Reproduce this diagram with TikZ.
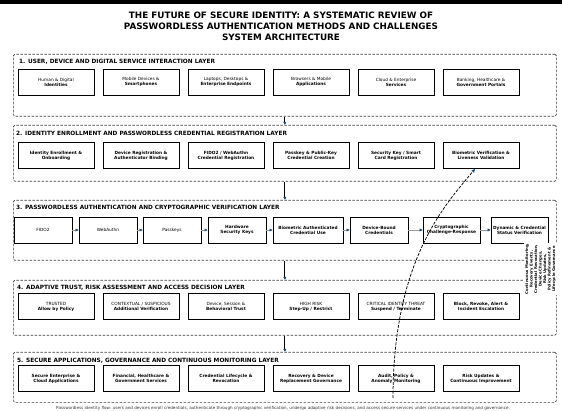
\documentclass[tikz,border=0pt]{standalone}
\usepackage{fontspec}
\setmainfont{DejaVu Sans}
\usetikzlibrary{arrows.meta}
\definecolor{tipblue}{HTML}{1F4E79}
\definecolor{framegray}{HTML}{404040}
\definecolor{linkgray}{HTML}{A0A0A0}
\begin{document}
\begin{tikzpicture}[x=1pt,y=-1pt,
  layerbox/.style={draw=framegray, dash pattern=on 2.6pt off 1.4pt, line width=0.7pt,
    rounded corners=1.5pt, minimum width=543pt, anchor=north west, inner sep=0pt},
  layertitle/.style={anchor=west, inner sep=0pt, font=\fontsize{5.8}{6.5}\selectfont\bfseries},
  cbox/.style={draw=black, line width=0.8pt, fill=white, minimum width=76pt, minimum height=26pt,
    align=center, inner sep=1pt, font=\fontsize{4.3}{5.1}\selectfont},
  bbox/.style={cbox, font=\fontsize{4.3}{5.1}\selectfont\bfseries},
  sbox/.style={cbox, minimum width=58pt},
  flowarrow/.style={draw=black, line width=0.8pt, -{Triangle[length=3.2pt,width=3pt,fill=tipblue,color=tipblue]}},
  linkarrow/.style={draw=linkgray, line width=0.5pt, -{Triangle[length=3pt,width=2.8pt,fill=tipblue,color=tipblue]}},
  fbarrow/.style={draw=black, line width=0.75pt, dash pattern=on 3pt off 1.4pt, -{Triangle[length=3.6pt,width=3.2pt,fill=tipblue,color=tipblue]}},
]
\useasboundingbox (0,0) rectangle (562,411);
\fill[white] (0,0) rectangle (562,411);
\fill[black] (0,0) rectangle (562,4.5);

% title
\node[align=center, font=\fontsize{8.8}{11}\selectfont\bfseries] (title) at (281,26.7)
  {THE FUTURE OF SECURE IDENTITY: A SYSTEMATIC REVIEW OF\\PASSWORDLESS AUTHENTICATION METHODS AND CHALLENGES\\SYSTEM ARCHITECTURE};

% layers
\node[layerbox, minimum height=62pt] (L1) at (13,54) {};
\node[layerbox, minimum height=56pt] (L2) at (13,125) {};
\node[layerbox, minimum height=60pt] (L3) at (13,200) {};
\node[layerbox, minimum height=55pt] (L4) at (13,280) {};
\node[layerbox, minimum height=50pt] (L5) at (13,352) {};

\node[layertitle] (T1) at (19,62) {1. USER, DEVICE AND DIGITAL SERVICE INTERACTION LAYER};
\node[layertitle] (T2) at (16,133.5) {2. IDENTITY ENROLLMENT AND PASSWORDLESS CREDENTIAL REGISTRATION LAYER};
\node[layertitle] (T3) at (16,207.5) {3. PASSWORDLESS AUTHENTICATION AND CRYPTOGRAPHIC VERIFICATION LAYER};
\node[layertitle] (T4) at (17,287.5) {4. ADAPTIVE TRUST, RISK ASSESSMENT AND ACCESS DECISION LAYER};
\node[layertitle] (T5) at (17,360.5) {5. SECURE APPLICATIONS, GOVERNANCE AND CONTINUOUS MONITORING LAYER};

% layer 1
\node[cbox] (l1b1) at (56,82) {Human \& Digital\\\textbf{Identities}};
\node[cbox] (l1b2) at (141,82) {Mobile Devices \&\\\textbf{Smartphones}};
\node[cbox] (l1b3) at (226,82) {Laptops, Desktops \&\\\textbf{Enterprise Endpoints}};
\node[cbox] (l1b4) at (311,82) {Browsers \& Mobile\\\textbf{Applications}};
\node[cbox] (l1b5) at (396,82) {Cloud \& Enterprise\\\textbf{Services}};
\node[cbox] (l1b6) at (481,82) {Banking, Healthcare \&\\\textbf{Government Portals}};

% layer 2
\node[bbox] (l2b1) at (56,155.5) {Identity Enrollment \&\\Onboarding};
\node[bbox] (l2b2) at (141,155.5) {Device Registration \&\\Authenticator Binding};
\node[bbox] (l2b3) at (226,155.5) {FIDO2 / WebAuthn\\Credential Registration};
\node[bbox] (l2b4) at (311,155.5) {Passkey \& Public-Key\\Credential Creation};
\node[bbox] (l2b5) at (396,155.5) {Security Key / Smart\\Card Registration};
\node[bbox] (l2b6) at (481,155.5) {Biometric Verification \&\\Liveness Validation};

% layer 3
\node[sbox] (l3b1) at (43,230) {FIDO2};
\node[sbox] (l3b2) at (108,230) {WebAuthn};
\node[sbox] (l3b3) at (172,230) {Passkeys};
\node[sbox, bbox, minimum width=58pt] (l3b4) at (237,230) {Hardware\\Security Keys};
\node[sbox, bbox, minimum width=70pt] (l3b5) at (308,230) {Biometric Authenticated\\Credential Use};
\node[sbox, bbox, minimum width=58pt] (l3b6) at (379,230) {Device-Bound\\Credentials};
\node[sbox, bbox, minimum width=57pt] (l3b7) at (451.5,230) {Cryptographic\\Challenge-Response};
\node[sbox, bbox, minimum width=57pt] (l3b8) at (519.5,230) {Dynamic \& Credential\\Status Verification};

\foreach \a/\b in {l3b1/l3b2,l3b2/l3b3,l3b3/l3b4,l3b4/l3b5,l3b5/l3b6,l3b6/l3b7,l3b7/l3b8}
  \draw[linkarrow] (\a.east) -- (\b.west);

% layer 4
\node[cbox] (l4b1) at (56,306.5) {TRUSTED\\\textbf{Allow by Policy}};
\node[cbox] (l4b2) at (141,306.5) {CONTEXTUAL / SUSPICIOUS\\\textbf{Additional Verification}};
\node[cbox] (l4b3) at (226,306.5) {Device, Session \&\\\textbf{Behavioral Trust}};
\node[cbox] (l4b4) at (311,306.5) {HIGH RISK\\\textbf{Step-Up / Restrict}};
\node[cbox] (l4b5) at (396,306.5) {CRITICAL IDENTITY THREAT\\\textbf{Suspend / Terminate}};
\node[bbox] (l4b6) at (481,306.5) {Block, Revoke, Alert \&\\Incident Escalation};

% layer 5
\node[bbox] (l5b1) at (56,378.5) {Secure Enterprise \&\\Cloud Applications};
\node[bbox] (l5b2) at (141,378.5) {Financial, Healthcare \&\\Government Services};
\node[bbox] (l5b3) at (226,378.5) {Credential Lifecycle \&\\Revocation};
\node[bbox] (l5b4) at (311,378.5) {Recovery \& Device\\Replacement Governance};
\node[bbox] (l5b5) at (396,378.5) {Audit, Policy \&\\Anomaly Monitoring};
\node[bbox] (l5b6) at (481,378.5) {Risk Updates \&\\Continuous Improvement};

% inter-layer arrows
\draw[flowarrow] (L1.south) -- (L2.north);
\draw[flowarrow] (L2.south) -- (L3.north);
\draw[flowarrow] (L3.south) -- (L4.north);
\draw[flowarrow] (L4.south) -- (L5.north);

% feedback
\coordinate (fbs) at (393,398);
\draw[fbarrow] (fbs) .. controls (393,260) and (445,205) .. ([xshift=-6pt]l2b6.south);

% side label
\node[rotate=90, fill=white, align=center, inner sep=1pt,
  font=\fontsize{3.8}{4.5}\selectfont\bfseries] (side) at (540.5,269)
  {Continuous Monitoring,\\Recovery Events,\\Credential Revocation,\\Device Changes,\\Risk Updates,\\Policy Refinement \&\\Lifecycle Governance};

% footnote
\node[font=\fontsize{4.1}{5}\selectfont, text=black!80] (foot) at (283,408)
  {Passwordless identity flow: users and devices enroll credentials, authenticate through cryptographic verification, undergo adaptive risk decisions, and access secure services under continuous monitoring and governance.};
\end{tikzpicture}
\end{document}
